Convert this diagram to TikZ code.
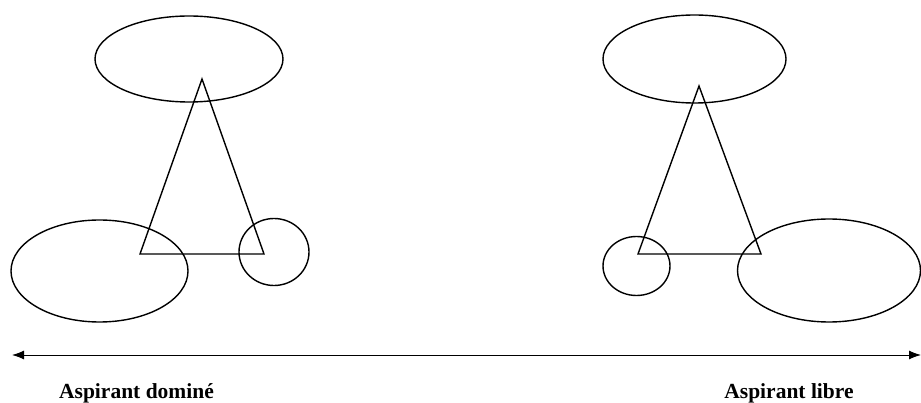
\documentclass[tikz,border=0pt]{standalone}
\usepackage{fontspec}
\setmainfont{Liberation Serif}
\usetikzlibrary{arrows.meta}
\begin{document}
\begin{tikzpicture}[x=1pt,y=-1pt,
  shapeline/.style={draw=black,line width=1.4pt},
  axisline/.style={draw=black,line width=1pt,{Latex[length=12pt,width=9pt]}-{Latex[length=12pt,width=9pt]}},
  lbl/.style={font=\fontsize{21.5}{24}\selectfont\bfseries,anchor=base,inner sep=0pt}]
\useasboundingbox (0,0) rectangle (921,403);
% left figure
\draw[shapeline] (189,59) ellipse [x radius=94, y radius=43];
\draw[shapeline] (99.5,271) ellipse [x radius=88.5, y radius=51];
\draw[shapeline] (274,252) ellipse [x radius=35, y radius=33.5];
\draw[shapeline,line join=miter] (202,79) -- (140,254) -- (264,254) -- cycle;
% right figure
\draw[shapeline] (694.5,59) ellipse [x radius=91.5, y radius=44];
\draw[shapeline] (636.5,266) ellipse [x radius=33.5, y radius=29.5];
\draw[shapeline] (829,270.5) ellipse [x radius=91.5, y radius=51.5];
\draw[shapeline,line join=miter] (699,86) -- (638,254) -- (761,254) -- cycle;
% axis
\coordinate (L) at (12,355);
\coordinate (R) at (921,355);
\draw[axisline] (L) -- (R);
\node[lbl] (dom) at (136.5,398) {Aspirant dominé};
\node[lbl] (lib) at (789,398) {Aspirant libre};
\end{tikzpicture}
\end{document}
